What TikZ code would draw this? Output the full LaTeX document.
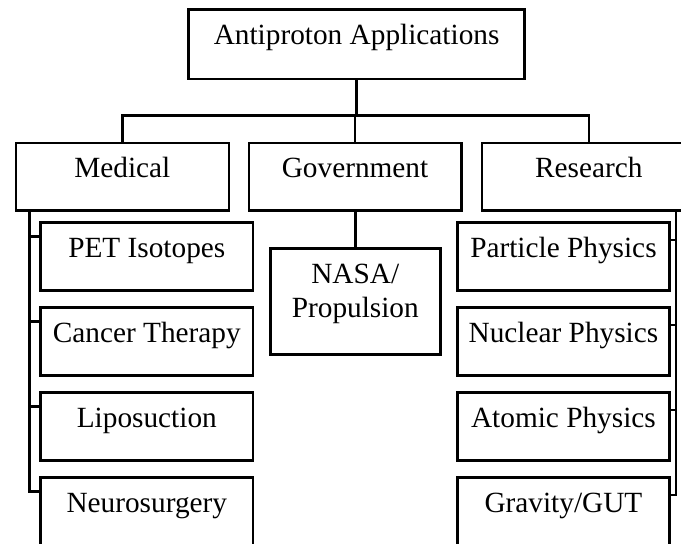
\documentclass[tikz,border=0pt]{standalone}
\usepackage{fontspec}
\setmainfont{Liberation Serif}
\begin{document}
\begin{tikzpicture}[x=1pt,y=-1pt,
  box/.style={draw, line width=2.6pt, rectangle, inner sep=0pt, anchor=north west,
    text height=34.5pt, text depth=33.5pt, align=center,
    font=\fontsize{29.3}{34.3}\selectfont},
  conn/.style={line width=2.6pt}]
\clip (0,0) rectangle (681,544);
\fill[white] (0,0) rectangle (681,544);
% top
\node[box, minimum width=336pt, text depth=34.9pt] (root) at (187.3,8.3) {Antiproton Applications};
% second level
\node[box, minimum width=213pt, text depth=33.3pt] (med) at (14.5,141.5) {Medical};
\node[box, minimum width=212.5pt, text depth=33.3pt] (gov) at (247.5,141.5) {Government};
\node[box, minimum width=214pt, text depth=33.3pt] (res) at (480.5,141.5) {Research};
% government child
\node[box, minimum width=170pt, text height=68.8pt, text depth=37.2pt] (nasa) at (269,247.3) {NASA/\\Propulsion};
% medical children
\node[box, minimum width=212.4pt] (pet) at (39.3,221.3) {PET Isotopes};
\node[box, minimum width=212.4pt] (can) at (39.3,306.3) {Cancer Therapy};
\node[box, minimum width=212.4pt] (lip) at (39.3,391.3) {Liposuction};
\node[box, minimum width=212.4pt] (neu) at (39.3,476.3) {Neurosurgery};
% research children
\node[box, minimum width=212.3pt] (par) at (456,221.3) {Particle Physics};
\node[box, minimum width=212.3pt] (nuc) at (456,306.3) {Nuclear Physics};
\node[box, minimum width=212.3pt] (ato) at (456,391.3) {Atomic Physics};
\node[box, minimum width=212.3pt] (gra) at (456,476.3) {Gravity/GUT};
% bus
\coordinate (bus) at (0,115.7);
\coordinate (ls) at (29.3,0);
\coordinate (rs) at (676,0);
\draw[conn] (root.south) -- (root.south |- bus);
\draw[conn] (med.north) -- (med.north |- bus) -| (res.north);
\draw[conn] (gov.north) -- (gov.north |- bus);
\draw[conn] (gov.south -| nasa.north) -- (nasa.north);
% left spine
\draw[conn] (med.south -| ls) |- ([yshift=-15.4pt]neu.north west);
\foreach \n in {pet,can,lip}
  \draw[conn] ([yshift=-15.4pt]\n.north west) -- ([yshift=-15.4pt]\n.north west -| ls);
% right spine
\draw[conn] (res.south -| rs) |- ([yshift=-18.7pt]gra.north east);
\foreach \n in {par,nuc,ato}
  \draw[conn] ([yshift=-18.7pt]\n.north east) -- ([yshift=-18.7pt]\n.north east -| rs);
\end{tikzpicture}
\end{document}
